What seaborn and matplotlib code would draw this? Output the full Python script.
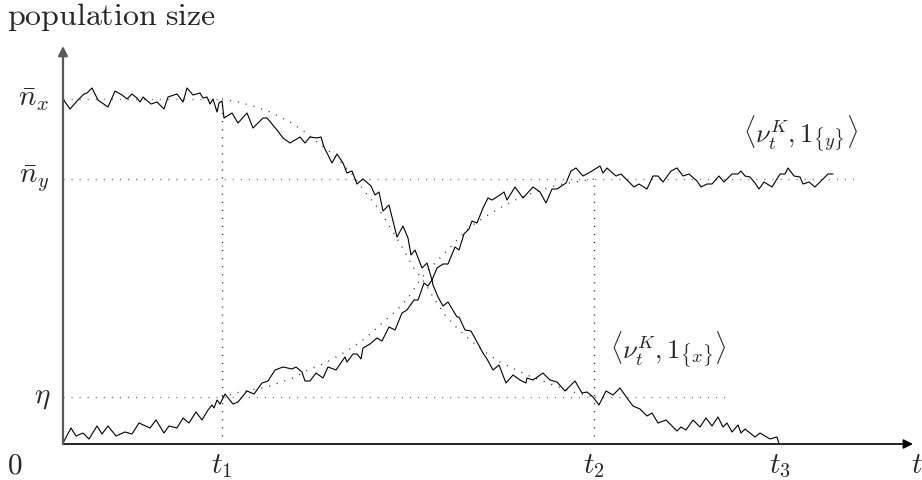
"""Sketch of the two-type population: resident x is invaded by mutant y."""
import pandas as pd
import seaborn as sns
import matplotlib.pyplot as plt

# levels and times (axis units)
N_X, N_Y, ETA = 345, 265, 47
T1, T2, T3 = 159, 531, 717
ETA_END, NY_END = 664, 797

# stochastic path of type x
x_time = [0, 7, 14, 21, 24, 29, 35, 42, 45, 52, 59, 64, 69, 74, 77, 80, 88, 94, 101, 105,
          114, 120, 124, 130, 137, 140, 144, 147, 150, 154, 156, 159, 161, 169, 175, 184, 190,
          200, 204, 214, 220, 227, 237, 242, 247, 254, 258, 261, 269, 274, 280, 284, 289, 294,
          300, 308, 312, 316, 320, 326, 334, 340, 345, 348, 352, 359, 364, 369, 370, 375, 380,
          385, 394, 396, 402, 408, 414, 420, 424, 430, 436, 443, 450, 457, 463, 464, 470, 480,
          487, 494, 502, 512, 519, 524, 530, 536, 543, 550, 557, 564, 570, 577, 584, 589, 595,
          603, 614, 618, 623, 630, 637, 643, 649, 655, 660, 664, 669, 675, 678, 682, 692, 697,
          707, 714, 716]
x_size = [345, 335, 343, 350, 351, 356, 344, 339, 337, 353, 349, 345, 350, 346, 342, 347, 340,
          342, 335, 347, 350, 342, 356, 349, 351, 346, 347, 340, 345, 332, 341, 343, 326, 331,
          321, 331, 316, 326, 326, 314, 306, 301, 307, 301, 307, 306, 307, 297, 281, 290, 281,
          271, 273, 260, 265, 258, 249, 252, 233, 239, 207, 218, 206, 189, 194, 176, 181, 164,
          159, 147, 138, 142, 127, 127, 114, 113, 102, 91, 85, 74, 79, 61, 69, 64, 61, 66, 64,
          71, 64, 62, 53, 63, 51, 52, 47, 39, 53, 49, 56, 46, 38, 35, 28, 31, 21, 24, 13, 17,
          14, 24, 17, 26, 18, 27, 17, 21, 12, 19, 11, 15, 7, 11, 5, 7, 0]

# stochastic path of type y
y_time = [0, 8, 13, 20, 26, 34, 39, 45, 53, 62, 69, 76, 87, 93, 101, 106, 114, 120, 126, 133,
          139, 145, 149, 151, 154, 157, 162, 170, 175, 184, 191, 199, 205, 212, 220, 229, 233,
          239, 242, 247, 253, 260, 265, 273, 282, 284, 290, 294, 298, 300, 307, 314, 319, 326,
          332, 339, 344, 351, 355, 361, 365, 369, 374, 380, 385, 392, 396, 401, 406, 409, 414,
          420, 425, 429, 437, 441, 444, 452, 460, 470, 477, 483, 489, 494, 503, 508, 513, 520,
          529, 537, 540, 544, 553, 558, 564, 571, 576, 584, 590, 595, 600, 608, 614, 620, 626,
          634, 638, 644, 649, 656, 661, 669, 675, 678, 682, 687, 692, 696, 701, 709, 717, 722,
          725, 731, 737, 740, 746, 752, 759, 765, 770]
y_size = [1, 16, 8, 11, 5, 18, 10, 18, 8, 12, 10, 21, 16, 24, 11, 18, 16, 26, 21, 32, 24, 34,
          39, 36, 44, 40, 50, 40, 42, 53, 50, 61, 63, 74, 77, 75, 77, 72, 63, 63, 71, 66, 77,
          74, 87, 82, 90, 90, 85, 96, 100, 106, 103, 117, 114, 131, 134, 144, 144, 161, 158,
          164, 176, 180, 180, 197, 194, 210, 215, 223, 221, 236, 246, 244, 249, 252, 244, 257,
          246, 257, 252, 241, 255, 255, 261, 273, 276, 268, 273, 278, 271, 276, 268, 270, 264,
          257, 260, 255, 268, 268, 262, 273, 276, 268, 270, 263, 257, 260, 260, 268, 262, 270,
          270, 273, 268, 267, 261, 255, 262, 257, 270, 270, 276, 268, 267, 260, 262, 257, 264,
          270, 270]

# deterministic (large population) approximations between t1 and t2
det_time_x = [159, 175, 190, 205, 227, 242, 255, 270, 289, 302, 315, 327, 339, 350, 362, 370,
              382, 394, 407, 422, 437, 464, 490, 510, 531]
det_size_x = [345, 342, 338, 333, 322, 312, 301, 290, 270, 252, 236, 217, 197, 177, 161, 147,
              129, 116, 104, 92, 82, 69, 59, 52, 47]
det_time_y = [159, 177, 204, 230, 245, 262, 277, 290, 304, 317, 334, 345, 355, 365, 380, 394,
              407, 420, 437, 452, 469, 494, 512, 531]
det_size_y = [47, 52, 57, 66, 74, 81, 89, 97, 107, 119, 134, 146, 161, 174, 189, 204, 217, 226,
              236, 244, 251, 259, 262, 265]

sns.set_style('white')
plt.rcParams['mathtext.fontset'] = 'cm'

fig = plt.figure(figsize=(9.22, 4.8), dpi=100)
ax = fig.add_axes([63 / 922, 36 / 480, 850 / 922, 398 / 480])
ax.set_xlim(0, 850)
ax.set_ylim(0, 398)
ax.axis('off')

dots = (0, (0.8, 5))

# guide lines
ax.hlines([N_X], 0, T1, colors='0.45', lw=1, linestyles=[dots])
ax.hlines([N_Y], 0, NY_END, colors='0.45', lw=1, linestyles=[dots])
ax.hlines([ETA], 0, ETA_END, colors='0.45', lw=1, linestyles=[dots])
ax.vlines([T1], 0, N_X, colors='0.15', lw=1, linestyles=[dots])
ax.vlines([T2], 0, N_Y, colors='0.15', lw=1, linestyles=[dots])

det_x = pd.DataFrame({'t': det_time_x, 'n': det_size_x})
det_y = pd.DataFrame({'t': det_time_y, 'n': det_size_y})
for det in (det_x, det_y):
    sns.lineplot(data=det, x='t', y='n', ax=ax, sort=False, estimator=None,
                 color='0.25', lw=1, linestyle=dots)

path_x = pd.DataFrame({'t': x_time, 'n': x_size})
path_y = pd.DataFrame({'t': y_time, 'n': y_size})
for path in (path_x, path_y):
    sns.lineplot(data=path, x='t', y='n', ax=ax, sort=False, estimator=None,
                 color='black', lw=0.8, clip_on=False)

# axes with arrow heads
ax.annotate('', xy=(850, 0), xytext=(0, 0), annotation_clip=False,
            arrowprops=dict(arrowstyle='-|>', color='black', lw=1.2,
                            mutation_scale=14, shrinkA=0, shrinkB=0))
ax.annotate('', xy=(0, 398), xytext=(0, 0), annotation_clip=False,
            arrowprops=dict(arrowstyle='-|>', color='0.35', lw=1.6,
                            mutation_scale=14, shrinkA=0, shrinkB=0))

fs = 21
ax.text(-56, 427, r'$\mathrm{population\ size}$', fontsize=23, ha='left', va='center')
ax.text(-13, N_X, r'$\bar{n}_x$', fontsize=fs, ha='right', va='center')
ax.text(-13, N_Y, r'$\bar{n}_y$', fontsize=fs, ha='right', va='center')
ax.text(-13, ETA, r'$\eta$', fontsize=fs, ha='right', va='center')
ax.text(-48, -21, r'$0$', fontsize=fs, ha='center', va='center')
ax.text(T1, -22, r'$t_1$', fontsize=fs, ha='center', va='center')
ax.text(T2, -22, r'$t_2$', fontsize=fs, ha='center', va='center')
ax.text(T3, -22, r'$t_3$', fontsize=fs, ha='center', va='center')
ax.text(854, -21, r'$t$', fontsize=fs, ha='center', va='center')
ax.text(738, 310, r'$\langle \nu_t^K, \mathbf{1}_{\{y\}} \rangle$', fontsize=19,
        ha='center', va='center')
ax.text(605, 94, r'$\langle \nu_t^K, \mathbf{1}_{\{x\}} \rangle$', fontsize=19,
        ha='center', va='center')

fig.savefig('out.png', dpi=100)
